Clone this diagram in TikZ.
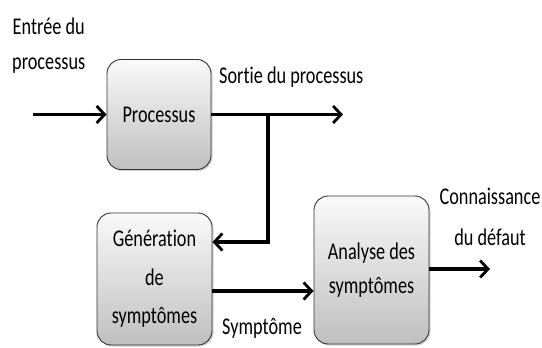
\documentclass[tikz,border=0pt]{standalone}
\usepackage{fontspec}
\setmainfont{Carlito}[FakeStretch=0.76, Ligatures=NoCommon]
\usetikzlibrary{arrows.meta,shadows}
\begin{document}
\begin{tikzpicture}[x=1pt,y=-1pt,
  block/.style={draw=black!80, line width=0.9pt, rounded corners=14pt,
    top color=gray!4, bottom color=gray!50, align=center,
    drop shadow={shadow xshift=1.5pt, shadow yshift=-1.5pt, opacity=0.35}},
  arr/.style={line width=3.2pt, -{Straight Barb[length=8pt,width=17pt,line width=2.8pt]}},
  lbl/.style={align=center, inner sep=0pt}]
\useasboundingbox (0,0) rectangle (542,348);

% blocks
\node[block, minimum width=104pt, minimum height=110pt, font=\fontsize{24}{38}\selectfont] (proc) at (159,114.5) {Processus};
\node[block, minimum width=115pt, minimum height=132pt, font=\fontsize{24}{38.5}\selectfont] (gen) at (154.5,279) {Génération\\de\\symptômes};
\node[block, minimum width=115pt, minimum height=148pt, font=\fontsize{24}{34}\selectfont] (ana) at (371.5,270) {Analyse des\\symptômes};

% connector end points
\coordinate (in) at (33,114.5);
\coordinate (out) at (343,114.5);
\coordinate (br) at (268,114.5);
\coordinate (fbY) at (0,242);
\coordinate (symY) at (0,291);
\coordinate (res) at (490,269);

% connectors
\draw[arr] (in) -- (proc);
\draw[arr] (proc.east) -- (out);
\draw[arr] (br) |- (gen.east |- fbY);
\draw[arr] (gen.east |- symY) -- (ana.west |- symY);
\draw[arr] (ana.east |- res) -- (res);

% labels
\node[lbl, anchor=west, font=\fontsize{24}{35}\selectfont] (lin) at (12,46) {Entrée du\\processus};
\node[lbl, anchor=west, font=\fontsize{24}{35}\selectfont] (lout) at (219,77) {Sortie du processus};
\node[lbl, font=\fontsize{24}{41}\selectfont] (lres) at (490,217) {Connaissance\\du défaut};
\node[lbl, anchor=west, font=\fontsize{24}{35}\selectfont] (lsym) at (222,328) {Symptôme};
\end{tikzpicture}
\end{document}
